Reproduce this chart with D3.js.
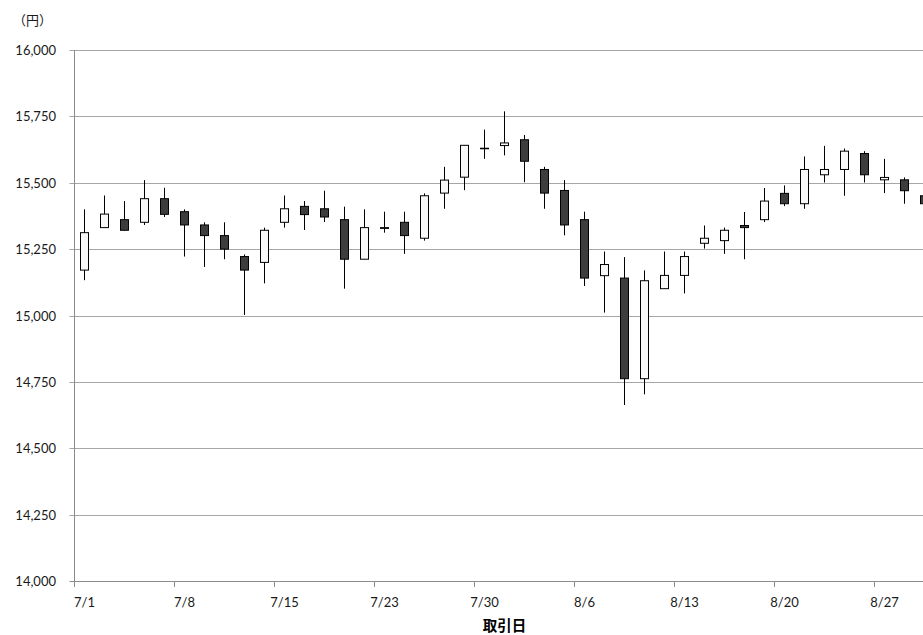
<!DOCTYPE html>
<html>
<head>
<meta charset="utf-8">
<title>Candlestick</title>
<script src="https://d3js.org/d3.v7.min.js"></script>
<style>
  body { margin: 0; background: #fff; }
  svg { display: block; }
</style>
</head>
<body>
<div id="chart"></div>
<script>
// 取引日 (trading days)
const dates = ["7/1","7/2","7/3","7/4","7/7","7/8","7/9","7/10","7/11","7/14",
  "7/15","7/16","7/17","7/18","7/22","7/23","7/24","7/25","7/28","7/29",
  "7/30","7/31","8/1","8/4","8/5","8/6","8/7","8/8","8/11","8/12",
  "8/13","8/14","8/15","8/18","8/19","8/20","8/21","8/22","8/25","8/26",
  "8/27","8/28","8/29"];

const open  = [15171,15331,15361,15351,15440,15391,15341,15301,15222,15200,
  15351,15411,15402,15361,15212,15328,15351,15291,15461,15521,
  15628,15640,15662,15550,15471,15361,15150,15141,14762,15101,
  15151,15272,15282,15339,15361,15460,15421,15530,15550,15610,
  15511,15511,15451];
const high  = [15400,15452,15431,15510,15481,15400,15351,15351,15230,15331,
  15452,15431,15470,15410,15400,15391,15391,15460,15560,15641,
  15700,15769,15680,15560,15510,15391,15241,15220,15170,15241,
  15241,15339,15331,15390,15480,15490,15599,15639,15629,15619,
  15590,15520,15460];
const low   = [15133,15330,15320,15341,15371,15222,15183,15212,15002,15121,
  15331,15322,15352,15101,15212,15312,15232,15282,15402,15472,
  15590,15603,15502,15402,15302,15111,15011,14663,14703,15100,
  15083,15252,15232,15212,15352,15412,15402,15501,15451,15501,
  15461,15421,15410];
const close = [15312,15382,15321,15440,15381,15341,15301,15250,15171,15321,
  15402,15380,15371,15212,15331,15331,15301,15451,15510,15641,
  15630,15650,15581,15461,15341,15141,15192,14762,15131,15151,
  15222,15291,15321,15331,15431,15421,15550,15550,15619,15530,
  15520,15470,15421];

const yTicks = [14000,14250,14500,14750,15000,15250,15500,15750,16000];

const W = 923, H = 635;
const margin = {left: 74.5, top: 50, bottom: 581};
const step = 20;
const plotRight = margin.left + dates.length * step;

const svg = d3.select("#chart").append("svg")
    .attr("width", W)
    .attr("height", H);

const x = d3.scaleBand()
    .domain(d3.range(dates.length))
    .range([margin.left, plotRight]);

const y = d3.scaleLinear()
    .domain([14000, 16000])
    .range([margin.bottom, margin.top]);

const font = "Lato, 'Noto Sans CJK JP', sans-serif";

// 目盛線
svg.append("g")
  .selectAll("line")
  .data(yTicks)
  .join("line")
    .attr("x1", margin.left - 5)
    .attr("x2", W)
    .attr("y1", d => Math.round(y(d)) + 0.5)
    .attr("y2", d => Math.round(y(d)) + 0.5)
    .attr("stroke", d => d === 14000 ? "#8c8c8c" : "#a6a6a6")
    .attr("stroke-width", 1);

// y axis labels
svg.append("g")
  .selectAll("text")
  .data(yTicks)
  .join("text")
    .attr("x", 56)
    .attr("y", d => Math.round(y(d)) + 5)
    .attr("text-anchor", "end")
    .attr("font-family", font)
    .attr("font-size", "13px")
    .attr("fill", "#1a1a1a")
    .text(d => d3.format(",")(d));

// y axis line
svg.append("line")
    .attr("x1", margin.left).attr("x2", margin.left)
    .attr("y1", margin.top).attr("y2", margin.bottom + 0.5)
    .attr("stroke", "#8c8c8c");

// x ticks every 5 days
const tickIdx = d3.range(0, dates.length, 5);
svg.append("g")
  .selectAll("line")
  .data(tickIdx)
  .join("line")
    .attr("x1", d => x(d))
    .attr("x2", d => x(d))
    .attr("y1", Math.round(y(14000)) + 0.5)
    .attr("y2", Math.round(y(14000)) + 6)
    .attr("stroke", "#8c8c8c");

svg.append("g")
  .selectAll("text")
  .data(tickIdx)
  .join("text")
    .attr("x", d => x(d) + x.bandwidth() / 2)
    .attr("y", 607)
    .attr("text-anchor", "middle")
    .attr("font-family", font)
    .attr("font-size", "13px")
    .attr("fill", "#1a1a1a")
    .text(d => dates[d]);

// candles
const bodyW = 8;
const cx = i => Math.floor(x(i) + x.bandwidth() / 2) + 0.5;
const c = svg.append("g")
  .selectAll("g")
  .data(dates.map((d, i) => i))
  .join("g");

c.append("line")
    .attr("x1", cx)
    .attr("x2", cx)
    .attr("y1", i => y(high[i]))
    .attr("y2", i => y(low[i]))
    .attr("stroke", "#000")
    .attr("stroke-width", 1);

c.append("rect")
    .attr("x", i => cx(i) - bodyW / 2)
    .attr("y", i => y(Math.max(open[i], close[i])))
    .attr("width", bodyW)
    .attr("height", i => Math.max(0.5, Math.abs(y(open[i]) - y(close[i]))))
    .attr("fill", i => close[i] >= open[i] ? "#f8f8f8" : "#3d3d3d")
    .attr("stroke", "#000")
    .attr("stroke-width", 1);

// labels
svg.append("text")
    .attr("x", 13)
    .attr("y", 25)
    .attr("font-family", "'Noto Sans CJK JP', sans-serif")
    .attr("font-size", "13px")
    .attr("fill", "#1a1a1a")
    .text("（円）");

svg.append("text")
    .attr("x", (margin.left + plotRight) / 2)
    .attr("y", 631)
    .attr("text-anchor", "middle")
    .attr("font-family", "'Noto Sans CJK JP', sans-serif")
    .attr("font-size", "14.5px")
    .attr("font-weight", "bold")
    .attr("fill", "#000")
    .text("取引日");
</script>
</body>
</html>
